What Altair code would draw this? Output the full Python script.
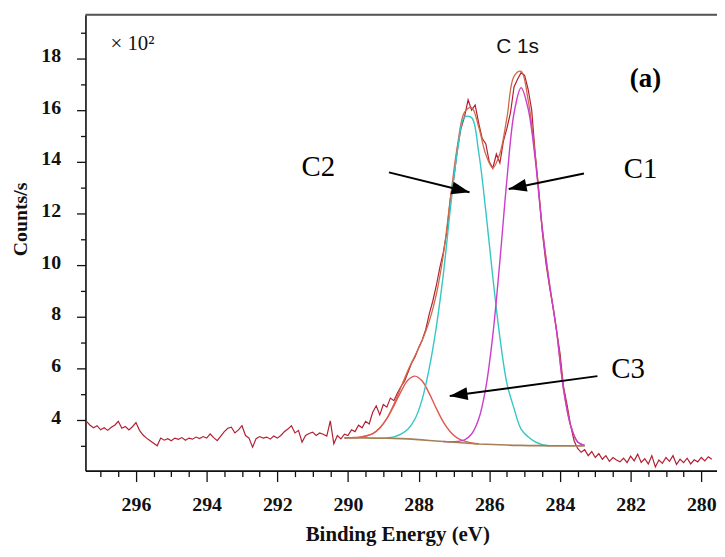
import altair as alt
import pandas as pd

# ---------------- data ----------------
raw_be = [
    297.4, 297.3, 297.2, 297.1, 297.0, 296.9, 296.8, 296.7, 296.6, 296.5,
    296.4, 296.3, 296.2, 296.1, 296.0, 295.9, 295.8, 295.7, 295.6, 295.5,
    295.4, 295.3, 295.2, 295.1, 295.0, 294.9, 294.8, 294.7, 294.6, 294.5,
    294.4, 294.3, 294.2, 294.1, 294.0, 293.9, 293.8, 293.7, 293.6, 293.5,
    293.4, 293.3, 293.2, 293.1, 293.0, 292.9, 292.8, 292.7, 292.6, 292.5,
    292.4, 292.3, 292.2, 292.1, 292.0, 291.9, 291.8, 291.7, 291.6, 291.5,
    291.4, 291.3, 291.2, 291.1, 291.0, 290.9, 290.8, 290.7, 290.6, 290.5,
    290.4, 290.3, 290.2, 290.1, 290.0, 289.9, 289.8, 289.7, 289.6, 289.5,
    289.4, 289.3, 289.2, 289.1, 289.0, 288.9, 288.8, 288.7, 288.6, 288.5,
    288.4, 288.3, 288.2, 288.1, 288.0, 287.9, 287.8, 287.7, 287.6, 287.5,
    287.4, 287.3, 287.2, 287.1, 287.0, 286.9, 286.8, 286.7, 286.6, 286.5,
    286.4, 286.3, 286.2, 286.1, 286.0, 285.9, 285.8, 285.7, 285.6, 285.5,
    285.4, 285.3, 285.2, 285.1, 285.0, 284.9, 284.8, 284.7, 284.6, 284.5,
    284.4, 284.3, 284.2, 284.1, 284.0, 283.9, 283.8, 283.7, 283.6, 283.5,
    283.4, 283.3, 283.2, 283.1, 283.0, 282.9, 282.8, 282.7, 282.6, 282.5,
    282.4, 282.3, 282.2, 282.1, 282.0, 281.9, 281.8, 281.7, 281.6, 281.5,
    281.4, 281.3, 281.2, 281.1, 281.0, 280.9, 280.8, 280.7, 280.6, 280.5,
    280.4, 280.3, 280.2, 280.1, 280.0, 279.9, 279.8, 279.7,
]
raw_counts = [
    3.95, 3.80, 3.70, 3.78, 3.62, 3.70, 3.60, 3.72, 3.80, 3.95,
    3.68, 3.75, 3.62, 3.74, 3.90, 3.60, 3.42, 3.30, 3.20, 3.10,
    3.00, 3.30, 3.22, 3.28, 3.20, 3.30, 3.25, 3.32, 3.22, 3.30,
    3.26, 3.34, 3.28, 3.36, 3.30, 3.46, 3.32, 3.20, 3.38, 3.55,
    3.68, 3.72, 3.50, 3.62, 3.78, 3.40, 3.30, 2.95, 3.28, 3.36,
    3.30, 3.34, 3.26, 3.38, 3.30, 3.40, 3.55, 3.65, 3.78, 3.50,
    3.60, 3.14, 3.40, 3.48, 3.53, 3.40, 3.50, 3.45, 3.38, 3.97,
    3.08, 3.40, 3.27, 3.45, 3.40, 3.62, 3.55, 3.80, 3.70, 3.95,
    3.85, 4.30, 4.55, 4.20, 4.60, 4.50, 4.85, 4.75, 5.05, 5.30,
    5.50, 5.85, 6.20, 6.45, 6.80, 7.10, 7.50, 8.10, 8.60, 9.20,
    9.90, 10.50, 11.30, 12.60, 13.40, 14.50, 15.30, 15.75, 16.40, 16.00,
    16.20, 15.50, 14.90, 14.70, 14.00, 13.75, 14.30, 13.95, 14.80, 15.30,
    15.90, 16.90, 17.20, 17.45, 17.35, 16.80, 16.00, 14.30, 12.90, 11.30,
    10.10, 9.20, 8.40, 7.50, 6.60, 5.30, 4.60, 3.80, 3.20, 2.90,
    2.75, 2.85, 2.62, 2.78, 2.55, 2.70, 2.48, 2.62, 2.40, 2.55,
    2.45, 2.38, 2.52, 2.35, 2.60, 2.42, 2.68, 2.36, 2.50, 2.30,
    2.62, 2.18, 2.45, 2.32, 2.55, 2.40, 2.62, 2.28, 2.48, 2.35,
    2.52, 2.30, 2.46, 2.38, 2.55, 2.42, 2.58, 2.48,
]

fit_be = [
    283.3, 283.5, 283.7, 283.9, 284.1, 284.3, 284.5, 284.7, 284.9, 285.1,
    285.3, 285.5, 285.7, 285.9, 286.1, 286.3, 286.5, 286.7, 286.9, 287.1,
    287.3, 287.5, 287.7, 287.9, 288.1, 288.3, 288.5, 288.7, 288.9, 289.1,
    289.3, 289.5, 289.7, 289.9, 290.1,
]
background = [
    3.00, 3.00, 3.00, 3.00, 3.00, 3.00, 3.01, 3.01, 3.01, 3.02,
    3.02, 3.03, 3.04, 3.05, 3.06, 3.07, 3.09, 3.11, 3.13, 3.15,
    3.17, 3.19, 3.21, 3.23, 3.25, 3.27, 3.28, 3.29, 3.30, 3.30,
    3.30, 3.31, 3.31, 3.31, 3.31,
]
envelope = [
    3.02, 3.15, 3.80, 5.20, 7.50, 9.31, 11.44, 14.24, 16.39, 17.50,
    17.31, 15.71, 14.32, 13.77, 14.29, 15.35, 16.10, 15.92, 14.64, 12.59,
    10.40, 8.86, 7.82, 7.08, 6.50, 5.93, 5.27, 4.61, 4.06, 3.69,
    3.47, 3.38, 3.33, 3.32, 3.31,
]

c1_be = [283.3, 283.5, 283.7, 283.9, 284.1, 284.3, 284.5, 284.7, 284.9, 285.1,
         285.3, 285.5, 285.7, 285.9, 286.1, 286.3, 286.5, 286.7, 286.9, 287.1, 287.3]
c1_counts = [3.02, 3.15, 3.80, 5.20, 7.50, 9.30, 11.40, 14.10, 16.05, 16.87,
             15.88, 13.33, 10.16, 7.29, 5.24, 4.04, 3.46, 3.23, 3.17, 3.16, 3.17]

c2_be = [284.3, 284.5, 284.7, 284.9, 285.1, 285.3, 285.5, 285.7, 285.9, 286.1,
         286.3, 286.5, 286.7, 286.9, 287.1, 287.3, 287.5, 287.7, 287.9, 288.1,
         288.3, 288.5, 288.7, 288.9]
c2_counts = [3.01, 3.05, 3.15, 3.35, 3.65, 4.45, 5.41, 7.20, 9.53, 12.11,
             14.37, 15.71, 15.73, 14.43, 12.20, 9.65, 7.60, 6.00, 4.80, 4.05,
             3.65, 3.45, 3.35, 3.31]

c3_be = [286.3, 286.5, 286.7, 286.9, 287.1, 287.3, 287.5, 287.7, 287.9, 288.1,
         288.3, 288.5, 288.7, 288.9, 289.1, 289.3, 289.5, 289.7, 289.9, 290.1]
c3_counts = [3.08, 3.11, 3.18, 3.30, 3.54, 3.92, 4.45, 5.03, 5.51, 5.70,
             5.55, 5.10, 4.55, 4.05, 3.69, 3.47, 3.38, 3.33, 3.32, 3.31]

peak_labels = ["C2", "C1", "C3"]
peak_label_be = [290.84, 281.72, 282.07]
peak_label_counts = [13.81, 13.71, 5.96]

arrow_start_be = [288.84, 283.32, 282.94]
arrow_start_counts = [13.59, 13.55, 5.70]
arrow_tip_be = [286.56, 285.45, 287.12]
arrow_tip_counts = [12.82, 12.95, 4.93]
arrow_angle = [104, 258, 262]

panel_text = ["(a)"]
panel_be = [281.58]
panel_counts = [17.19]

region_text = ["C 1s"]
region_be = [285.2]
region_counts = [18.46]

mult_text = ["\u00d7 10\u00b2"]
mult_be = [296.1]
mult_counts = [18.56]

x_major = [280, 282, 284, 286, 288, 290, 292, 294, 296]
x_minor = [280.5, 281.0, 281.5, 282.5, 283.0, 283.5, 284.5, 285.0, 285.5,
           286.5, 287.0, 287.5, 288.5, 289.0, 289.5, 290.5, 291.0, 291.5,
           292.5, 293.0, 293.5, 294.5, 295.0, 295.5, 296.5, 297.0]
y_major = [4, 6, 8, 10, 12, 14, 16, 18]
y_minor = [3, 5, 7, 9, 11, 13, 15, 17, 19]

# ---------------- tables ----------------
raw_df = pd.DataFrame({"be": raw_be, "counts": raw_counts})
bg_df = pd.DataFrame({"be": fit_be, "counts": background})
env_df = pd.DataFrame({"be": fit_be, "counts": envelope})
c1_df = pd.DataFrame({"be": c1_be, "counts": c1_counts})
c2_df = pd.DataFrame({"be": c2_be, "counts": c2_counts})
c3_df = pd.DataFrame({"be": c3_be, "counts": c3_counts})
lab_df = pd.DataFrame({"be": peak_label_be, "counts": peak_label_counts, "t": peak_labels})
arr_df = pd.DataFrame({"be": arrow_start_be, "counts": arrow_start_counts,
                       "be2": arrow_tip_be, "counts2": arrow_tip_counts, "ang": arrow_angle})
panel_df = pd.DataFrame({"be": panel_be, "counts": panel_counts, "t": panel_text})
region_df = pd.DataFrame({"be": region_be, "counts": region_counts, "t": region_text})
mult_df = pd.DataFrame({"be": mult_be, "counts": mult_counts, "t": mult_text})
xminor_df = pd.DataFrame({"be": x_minor})
yminor_df = pd.DataFrame({"counts": y_minor})

W, H = 636, 459
xs = alt.Scale(domain=[279.555, 297.43], reverse=True, nice=False, zero=False)
ys = alt.Scale(domain=[2.04, 19.69], nice=False, zero=False)

SERIF = "Liberation Serif"
INK = "#111111"

x_axis = alt.Axis(
    orient="bottom", values=x_major, format="d", title="Binding Energy (eV)",
    tickSize=11, labelPadding=13, labelOverlap=False, labelFlush=False,
    labelFont=SERIF, labelFontWeight="bold", labelFontSize=20, labelColor=INK,
    titleFont=SERIF, titleFontWeight="bold", titleFontSize=21, titleColor=INK,
    titleX=314, titleY=64, titleAlign="center", titleBaseline="middle",
    domainColor=INK, domainWidth=1.6, tickColor=INK, tickWidth=1.3, grid=False,
)
x_axis_minor = alt.Axis(
    orient="bottom", values=x_minor, title=None, labels=False, domain=False,
    tickSize=6, tickColor=INK, tickWidth=1.3, grid=False,
)
y_axis = alt.Axis(
    orient="left", values=y_major, format="d", title="Counts/s",
    tickSize=9, labelPadding=16, labelOffset=-3, labelOverlap=False, labelFlush=False,
    labelFont=SERIF, labelFontWeight="bold", labelFontSize=20, labelColor=INK,
    titleFont=SERIF, titleFontWeight="bold", titleFontSize=20, titleColor=INK,
    titleX=-65.5, titleY=205.5, titleAngle=270, titleAlign="center", titleBaseline="middle",
    domainColor=INK, domainWidth=1.6, tickColor=INK, tickWidth=1.3, grid=False,
)
y_axis_minor = alt.Axis(
    orient="left", values=y_minor, title=None, labels=False, domain=False,
    tickSize=5, tickColor=INK, tickWidth=1.3, grid=False,
)


def line_layer(df, color, width=1.3, interp="catmull-rom"):
    return alt.Chart(df).mark_line(color=color, strokeWidth=width, interpolate=interp).encode(
        x=alt.X("be:Q", scale=xs, axis=None),
        y=alt.Y("counts:Q", scale=ys, axis=None),
        order=alt.Order("be:Q"),
    )


raw = alt.Chart(raw_df).mark_line(color="#B41F33", strokeWidth=1.2).encode(
    x=alt.X("be:Q", scale=xs, axis=x_axis),
    y=alt.Y("counts:Q", scale=ys, axis=y_axis),
    order=alt.Order("be:Q"),
)
xminor = alt.Chart(xminor_df).mark_point(opacity=0).encode(
    x=alt.X("be:Q", scale=xs, axis=x_axis_minor),
    y=alt.value(0),
)
yminor = alt.Chart(yminor_df).mark_point(opacity=0).encode(
    y=alt.Y("counts:Q", scale=ys, axis=y_axis_minor),
    x=alt.value(0),
)
env = line_layer(env_df, "#CD6A45", 1.3)
c3 = line_layer(c3_df, "#E0574F", 1.4)
c2 = line_layer(c2_df, "#35C6C6", 1.4)
c1 = line_layer(c1_df, "#CC3DCC", 1.4)
bg = line_layer(bg_df, "#A57F55", 1.6, "linear")

frame_top = alt.Chart(alt.Data(values=[{"k": 1}])).mark_rule(
    color="#555555", strokeWidth=2
).encode(x=alt.value(0), x2=alt.value(W), y=alt.value(0))

arrows = alt.Chart(arr_df).mark_rule(color="#000000", strokeWidth=2).encode(
    x=alt.X("be:Q", scale=xs, axis=None),
    y=alt.Y("counts:Q", scale=ys, axis=None),
    x2="be2:Q", y2="counts2:Q",
)
heads = alt.Chart(arr_df).mark_point(
    shape="M0,0L0.72,2L-0.72,2Z", filled=True, size=324, opacity=1,
    color="#000000", strokeWidth=0,
).encode(
    x=alt.X("be2:Q", scale=xs, axis=None),
    y=alt.Y("counts2:Q", scale=ys, axis=None),
    angle=alt.Angle("ang:Q", scale=None),
)

labels = alt.Chart(lab_df).mark_text(
    font=SERIF, fontSize=29, color="#000000", align="center", baseline="middle"
).encode(x=alt.X("be:Q", scale=xs, axis=None), y=alt.Y("counts:Q", scale=ys, axis=None), text="t:N")

panel = alt.Chart(panel_df).mark_text(
    font=SERIF, fontSize=27, fontWeight="bold", color="#000000", align="center", baseline="middle"
).encode(x=alt.X("be:Q", scale=xs, axis=None), y=alt.Y("counts:Q", scale=ys, axis=None), text="t:N")

region = alt.Chart(region_df).mark_text(
    font="Liberation Sans", fontSize=21, color=INK, align="center", baseline="middle"
).encode(x=alt.X("be:Q", scale=xs, axis=None), y=alt.Y("counts:Q", scale=ys, axis=None), text="t:N")

mult = alt.Chart(mult_df).mark_text(
    font=SERIF, fontSize=21, color=INK, align="center", baseline="middle"
).encode(x=alt.X("be:Q", scale=xs, axis=None), y=alt.Y("counts:Q", scale=ys, axis=None), text="t:N")

chart = alt.layer(
    raw, xminor, yminor, env, c3, c2, c1, bg, frame_top, arrows, heads,
    labels, panel, region, mult
).resolve_axis(
    x="independent", y="independent"
).properties(
    width=W, height=H,
    padding={"left": 78, "top": 5, "right": 0, "bottom": 77},
    autosize=alt.AutoSizeParams(type="none"),
).configure_view(stroke=None).configure(background="white")

chart.save("out.html", embed_options={"renderer": "svg", "actions": False})
